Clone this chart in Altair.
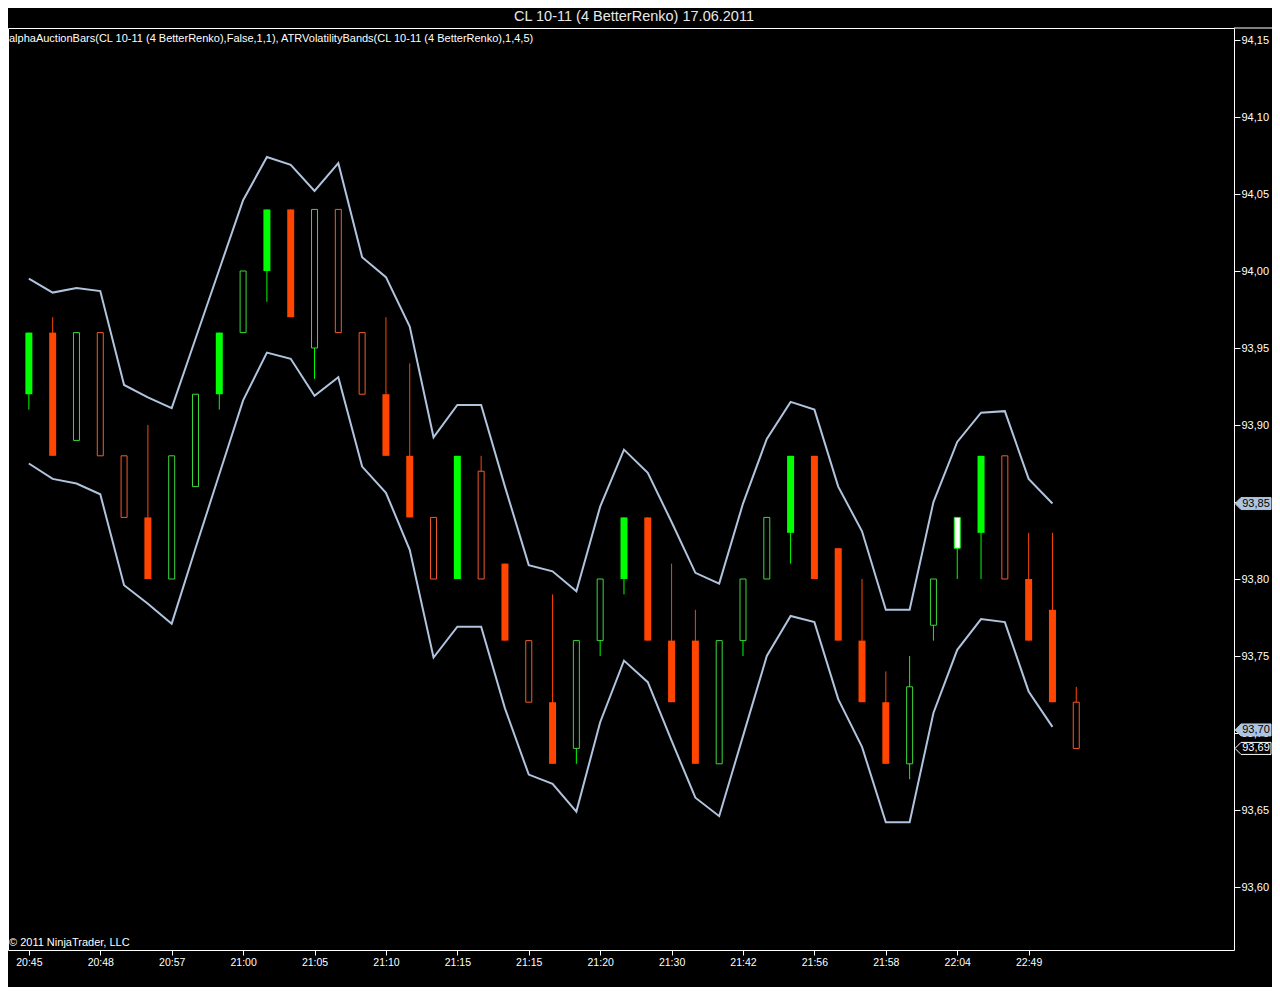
import json
import altair as alt
import pandas as pd

# ---------------- data ----------------
time_labels = ["20:45", "20:48", "20:57", "21:00", "21:05", "21:10", "21:15", "21:15",
               "21:20", "21:30", "21:42", "21:56", "21:58", "22:04", "22:49"]

bar_open = [93.92, 93.96, 93.89, 93.96, 93.88, 93.84, 93.80, 93.86, 93.92, 93.96,
            94.00, 94.04, 93.95, 94.04, 93.96, 93.92, 93.88, 93.84, 93.80, 93.87,
            93.81, 93.76, 93.72, 93.69, 93.76, 93.80, 93.84, 93.76, 93.76, 93.68,
            93.76, 93.80, 93.83, 93.88, 93.82, 93.76, 93.72, 93.68, 93.77, 93.82,
            93.83, 93.88, 93.80, 93.78, 93.72]
bar_close = [93.96, 93.88, 93.96, 93.88, 93.84, 93.80, 93.88, 93.92, 93.96, 94.00,
             94.04, 93.97, 94.04, 93.96, 93.92, 93.88, 93.84, 93.80, 93.88, 93.80,
             93.76, 93.72, 93.68, 93.76, 93.80, 93.84, 93.76, 93.72, 93.68, 93.76,
             93.80, 93.84, 93.88, 93.80, 93.76, 93.72, 93.68, 93.73, 93.80, 93.84,
             93.88, 93.80, 93.76, 93.72, 93.69]
bar_high = [93.96, 93.97, 93.96, 93.96, 93.88, 93.90, 93.88, 93.92, 93.96, 94.00,
            94.04, 94.04, 94.04, 94.04, 93.96, 93.97, 93.94, 93.84, 93.88, 93.88,
            93.81, 93.76, 93.79, 93.76, 93.80, 93.84, 93.84, 93.81, 93.78, 93.76,
            93.80, 93.84, 93.88, 93.88, 93.82, 93.80, 93.74, 93.75, 93.80, 93.84,
            93.88, 93.88, 93.83, 93.83, 93.73]
bar_low = [93.91, 93.88, 93.89, 93.88, 93.84, 93.80, 93.80, 93.86, 93.91, 93.96,
           93.98, 93.97, 93.93, 93.96, 93.92, 93.88, 93.84, 93.80, 93.80, 93.80,
           93.76, 93.72, 93.68, 93.68, 93.75, 93.79, 93.76, 93.72, 93.68, 93.68,
           93.75, 93.80, 93.81, 93.80, 93.76, 93.72, 93.68, 93.67, 93.76, 93.80,
           93.80, 93.80, 93.76, 93.72, 93.69]
# F = filled body, H = hollow body, W = white body
bar_style = ["F", "F", "H", "H", "H", "F", "H", "H", "F", "H",
             "F", "F", "H", "H", "H", "F", "F", "H", "F", "H",
             "F", "H", "F", "H", "H", "F", "F", "F", "F", "H",
             "H", "H", "F", "F", "F", "F", "F", "H", "H", "W",
             "F", "H", "F", "F", "H"]

band_upper = [93.995, 93.986, 93.989, 93.987, 93.926, 93.918, 93.911, 93.956, 94.001, 94.046,
              94.074, 94.069, 94.052, 94.070, 94.009, 93.996, 93.964, 93.892, 93.913, 93.913,
              93.860, 93.809, 93.805, 93.792, 93.847, 93.884, 93.869, 93.837, 93.804, 93.797,
              93.849, 93.891, 93.915, 93.910, 93.860, 93.831, 93.780, 93.780, 93.850, 93.889,
              93.908, 93.909, 93.865, 93.849]
band_lower = [93.875, 93.865, 93.862, 93.855, 93.796, 93.784, 93.771, 93.820, 93.868, 93.916,
              93.947, 93.943, 93.919, 93.931, 93.873, 93.856, 93.819, 93.749, 93.769, 93.769,
              93.716, 93.673, 93.667, 93.649, 93.707, 93.747, 93.733, 93.695, 93.658, 93.646,
              93.698, 93.750, 93.776, 93.772, 93.722, 93.691, 93.642, 93.642, 93.713, 93.754,
              93.774, 93.772, 93.727, 93.704]

price_ticks = [93.60, 93.65, 93.70, 93.75, 93.80, 93.85, 93.90, 93.95, 94.00, 94.05, 94.10, 94.15]

marker_labels = ["93,85", "93,70", "93,69"]
marker_values = [93.849, 93.702, 93.69]
marker_kind = ["band", "band", "last"]

title_text = "CL 10-11 (4 BetterRenko)  17.06.2011"
indicator_text = ("alphaAuctionBars(CL 10-11 (4 BetterRenko),False,1,1), "
                  "ATRVolatilityBands(CL 10-11 (4 BetterRenko),1,4,5)")
copyright_text = "\u00a9 2011 NinjaTrader, LLC"

# ---------------- tables ----------------
bars = pd.DataFrame({
    "i": list(range(len(bar_open))),
    "open": bar_open, "close": bar_close,
    "high": bar_high, "low": bar_low, "style": bar_style,
})
bands = pd.DataFrame({
    "i": list(range(len(band_upper))),
    "upper": band_upper, "lower": band_lower,
})
markers = pd.DataFrame({"label": marker_labels, "v": marker_values, "kind": marker_kind})

# ---------------- styling ----------------
W, H = 1226, 922
FONT = "Liberation Sans, Arial, sans-serif"
GREEN = "#00FF00"
RED = "#FF4500"
GREEN_H = "#3AD83A"
RED_H = "#F25A2A"
BAND = "#B0C4DE"

xscale = alt.Scale(domain=[-0.6667, 50.4167], nice=False, zero=False)
yscale = alt.Scale(domain=[93.5591, 94.1578], nice=False, zero=False)

x_label_expr = json.dumps(time_labels) + "[round(datum.value / 3)]"
xaxis = alt.Axis(values=list(range(0, 3 * len(time_labels), 3)), labelExpr=x_label_expr,
                 grid=False, domain=False, ticks=True, tickColor="white", tickSize=5,
                 labelColor="white", labelFont=FONT, labelFontSize=10.5, labelPadding=2,
                 labelFlush=False, labelOverlap=False, title=None)
yaxis = alt.Axis(orient="right", values=price_ticks,
                 labelExpr="replace(format(datum.value, '.2f'), '.', ',')",
                 grid=False, domain=False, ticks=True, tickColor="white", tickSize=6,
                 labelColor="white", labelFont=FONT, labelFontSize=11, labelPadding=1,
                 labelFlush=False, labelOverlap=False, title=None)

X = alt.X("i:Q", scale=xscale, axis=xaxis)
up = "datum.close >= datum.open"

base = alt.Chart(bars)

wicks = base.mark_rule(strokeWidth=1).encode(
    x=X,
    y=alt.Y("low:Q", scale=yscale, axis=yaxis),
    y2="high:Q",
    color=alt.condition(up, alt.value(GREEN), alt.value(RED)),
)

filled = base.transform_filter("datum.style == 'F'").mark_bar(size=7).encode(
    x=X,
    y=alt.Y("open:Q", scale=yscale, axis=yaxis),
    y2="close:Q",
    color=alt.condition(up, alt.value(GREEN), alt.value(RED)),
)

hollow = base.transform_filter("datum.style == 'H'").mark_bar(
    size=6, fill="black", strokeWidth=1
).encode(
    x=X,
    y=alt.Y("open:Q", scale=yscale, axis=yaxis),
    y2="close:Q",
    stroke=alt.condition(up, alt.value(GREEN_H), alt.value(RED_H)),
)

white = base.transform_filter("datum.style == 'W'").mark_bar(
    size=6, fill="white", stroke=GREEN, strokeWidth=1
).encode(
    x=X,
    y=alt.Y("open:Q", scale=yscale, axis=yaxis),
    y2="close:Q",
)

upper_line = alt.Chart(bands).mark_line(color=BAND, strokeWidth=2).encode(
    x=X, y=alt.Y("upper:Q", scale=yscale, axis=yaxis)
)
lower_line = alt.Chart(bands).mark_line(color=BAND, strokeWidth=2).encode(
    x=X, y=alt.Y("lower:Q", scale=yscale, axis=yaxis)
)

TAG = "M -1 0 L -0.667 -0.333 L 1 -0.333 L 1 0.333 L -0.667 0.333 Z"
mbase = alt.Chart(markers)
tag_band = mbase.transform_filter("datum.kind == 'band'").mark_point(
    shape=TAG, size=1296, filled=True, fill=BAND, stroke=BAND, strokeWidth=1, opacity=1
).encode(x=alt.value(1245), y=alt.Y("v:Q", scale=yscale, axis=yaxis))
tag_last = mbase.transform_filter("datum.kind == 'last'").mark_point(
    shape=TAG, size=1296, filled=True, fill="black", stroke="white", strokeWidth=1, opacity=1
).encode(x=alt.value(1245), y=alt.Y("v:Q", scale=yscale, axis=yaxis))
tag_text = mbase.mark_text(font=FONT, fontSize=11, align="center", baseline="middle").encode(
    x=alt.value(1248),
    y=alt.Y("v:Q", scale=yscale, axis=yaxis),
    text="label:N",
    color=alt.condition("datum.kind == 'last'", alt.value("white"), alt.value("black")),
)

# top border line extending across the price axis
top_rule = alt.Chart(pd.DataFrame({"a": [0]})).mark_rule(color="white", strokeWidth=1).encode(
    x=alt.value(W), x2=alt.value(W + 38), y=alt.value(0)
)

title = alt.Chart(pd.DataFrame({"t": [title_text]})).mark_text(
    font=FONT, fontSize=14.5, color="#E8E8E8", align="center", baseline="alphabetic"
).encode(text="t:N", x=alt.value(626), y=alt.value(-7))

indicator = alt.Chart(pd.DataFrame({"t": [indicator_text]})).mark_text(
    font=FONT, fontSize=11, color="white", align="left", baseline="middle"
).encode(text="t:N", x=alt.value(1), y=alt.value(11))

copyright = alt.Chart(pd.DataFrame({"t": [copyright_text]})).mark_text(
    font=FONT, fontSize=11, color="white", align="left", baseline="middle"
).encode(text="t:N", x=alt.value(1), y=alt.value(915))

chart = alt.layer(
    upper_line, lower_line, wicks, filled, hollow, white,
    tag_band, tag_last, tag_text, top_rule, title, indicator, copyright,
).properties(
    width=W, height=H,
    autosize=alt.AutoSizeParams(type="none"),
    padding={"left": 0, "top": 20, "right": 38, "bottom": 37},
    background="black",
).configure_view(
    stroke="white", strokeWidth=1, fill="black"
)

chart.save("out.html", embed_options={"renderer": "svg", "actions": False})
